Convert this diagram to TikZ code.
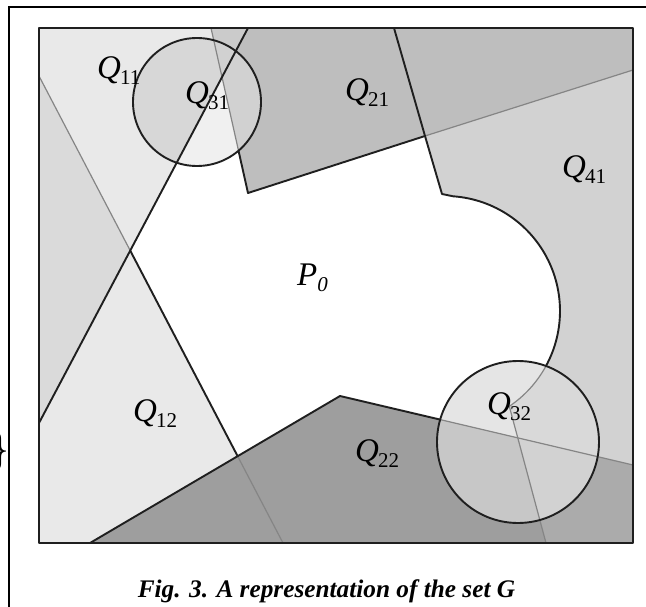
\documentclass[tikz,border=0pt]{standalone}
\usepackage{fontspec}
\setmainfont{Liberation Serif}
\usetikzlibrary{calc}
\newcommand{\Qlab}[1]{\textit{Q}\kern-1pt\raisebox{-6pt}{\fontsize{21}{22}\selectfont #1}}
\begin{document}
\begin{tikzpicture}[x=1pt,y=-1pt,
  blk/.style={draw=black!88, line width=1.9pt, line join=round},
  gry/.style={draw=black!48, line width=1.2pt},
  lab/.style={anchor=base west, inner sep=0pt, font=\fontsize{33}{34}\selectfont}]
\fill[white] (0,0) rectangle (646,607);
\useasboundingbox (0,0) rectangle (646,607);
% key points
\coordinate (TL) at (39,28); \coordinate (TR) at (633,28);
\coordinate (BR) at (633,543); \coordinate (BL) at (39,543);
\coordinate (A) at (39,76); \coordinate (L1e) at (283,543);
\coordinate (B) at (248,28); \coordinate (L2e) at (39,423);
\coordinate (X1) at (intersection of A--L1e and B--L2e);
\coordinate (C) at (211,28); \coordinate (D) at (248,193);
\coordinate (CX) at (intersection of C--D and B--L2e);
\coordinate (E) at (394,28); \coordinate (F) at (425,136);
\coordinate (R1) at (633,70); \coordinate (G) at (442,194);
\coordinate (Oc) at (445,311);
\coordinate (H) at ($(Oc)+(-86:115)$);
\coordinate (J) at ($(Oc)+(56:115)$);
\coordinate (AX) at ($(Oc)+(28.8:115)$);
\coordinate (P1) at (90,543); \coordinate (V) at (340,396);
\coordinate (R2) at (633,465); \coordinate (S) at (546,543);
\coordinate (M) at (intersection of A--L1e and P1--V);
\coordinate (K) at (intersection of J--S and V--R2);
\coordinate (O1) at (197,102); \coordinate (O2) at (518,442);
% region fills
\fill[black!8.5] (TL) -- (B) -- (X1) -- (A) -- cycle;
\fill[black!14.5] (A) -- (X1) -- (L2e) -- cycle;
\fill[black!8.5] (X1) -- (M) -- (P1) -- (BL) -- (L2e) -- cycle;
\fill[black!25.5] (C) -- (TR) -- (R1) -- (D) -- cycle;
\fill[black!20.5] (C) -- (B) -- (CX) -- cycle;
\fill[black!17.5] (F) -- (R1) -- (R2) -- (K) -- (J) arc[start angle=56, end angle=-86, radius=115] -- (G) -- cycle;
\fill[black!38] (P1) -- (V) -- (K) -- (S) -- cycle;
\fill[black!33] (K) -- (R2) -- (BR) -- (S) -- cycle;
% circle Q31 interior
\begin{scope}
\clip (O1) circle (64);
\fill[black!15.5] (O1) circle (64);
\fill[black!6] (CX) -- (D) -- (X1) -- cycle;
\fill[black!18] (C) -- (TR) -- (R1) -- (D) -- cycle;
\end{scope}
% circle Q32 interior
\begin{scope}
\clip (O2) circle (81);
\fill[black!10] (O2) circle (81);
\fill[black!15] (F) -- (R1) -- (R2) -- (K) -- (J) arc[start angle=56, end angle=-86, radius=115] -- (G) -- cycle;
\fill[black!22] (P1) -- (V) -- (K) -- (S) -- cycle;
\fill[black!17.5] (K) -- (R2) -- (BR) -- (S) -- cycle;
\end{scope}
% gray lines
\draw[gry] (A) -- (X1);
\draw[gry] (M) -- (L1e);
\draw[gry] (C) -- ($(C)!0.7437!(D)$);
\draw[gry] (F) -- (R1);
\draw[gry] (AX) arc[start angle=28.8, end angle=56, radius=115] -- (S);
\draw[gry] ($(V)!0.3419!(R2)$) -- (R2);
% black lines
\draw[blk] (X1) -- (M);
\draw[blk] (B) -- (L2e);
\draw[blk] ($(C)!0.7437!(D)$) -- (D) -- (F);
\draw[blk] (E) -- (F) -- (G) -- (H) arc[start angle=-86, end angle=28.8, radius=115];
\draw[blk] (P1) -- (V) -- ($(V)!0.3419!(R2)$);
\draw[blk] (O1) circle (64);
\draw[blk] (O2) circle (81);
\draw[blk] (TL) rectangle (BR);
% outer frame
\draw[black, line width=1.5pt] (646,7) -- (9,7) -- (9,607);
\node[anchor=east, inner sep=0pt, font=\fontsize{46}{46}\selectfont] (br) at (11,452) {\}};
% labels
\node[lab] (q11) at (97,79) {\Qlab{11}};
\node[lab] (q31) at (185,104) {\Qlab{31}};
\node[lab] (q21) at (345,101) {\Qlab{21}};
\node[lab] (q41) at (562,178) {\Qlab{41}};
\node[lab] (q12) at (133,421) {\Qlab{12}};
\node[lab] (q22) at (355,461) {\Qlab{22}};
\node[lab] (q32) at (487,414) {\Qlab{32}};
\node[lab] (p0) at (297,285) {\textit{P}\raisebox{-6pt}{\fontsize{21}{22}\selectfont\itshape 0}};
% caption
\node[anchor=base, inner sep=0pt, font=\fontsize{25.3}{28}\selectfont\bfseries\itshape] (cap) at (326.5,597) {Fig. 3. A representation of the set G};
\end{tikzpicture}
\end{document}
